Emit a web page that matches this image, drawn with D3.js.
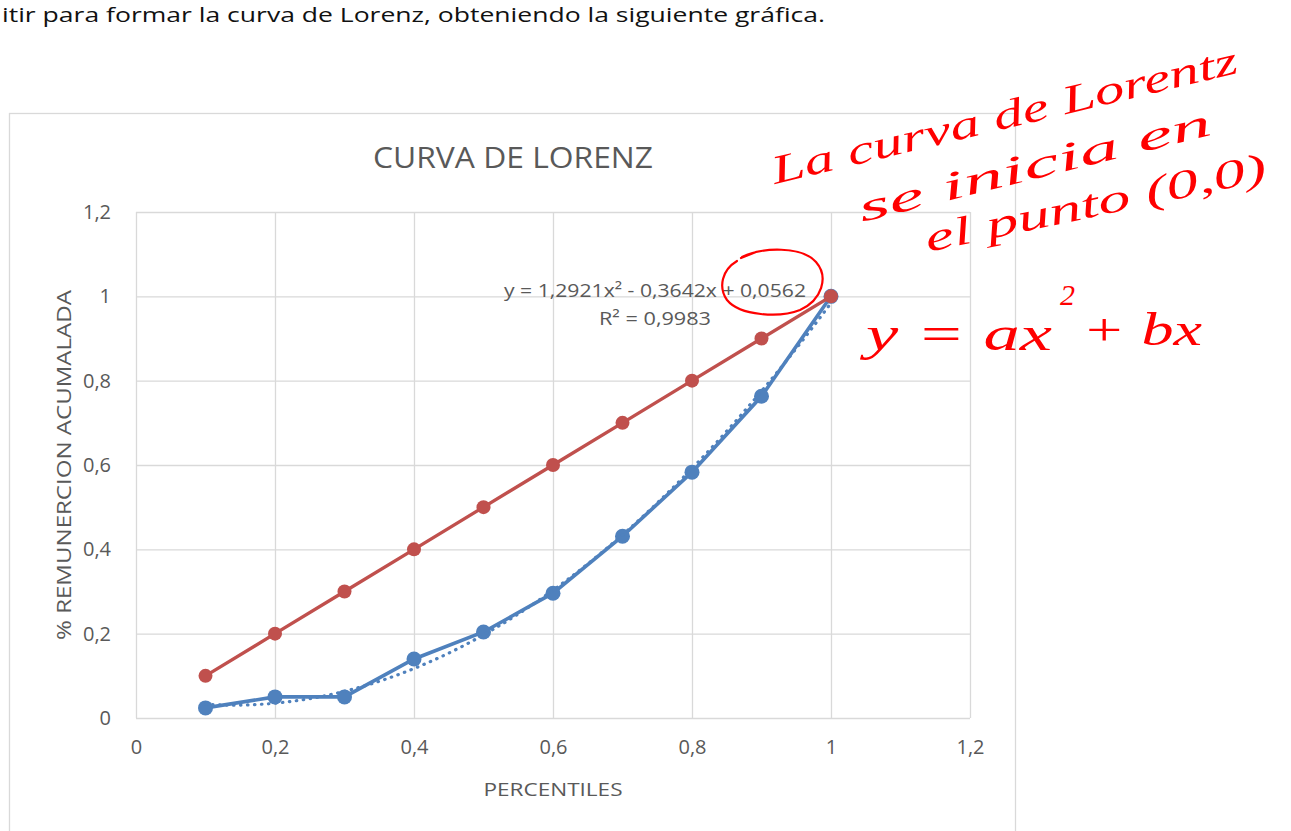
<!DOCTYPE html>
<html>
<head>
<meta charset="utf-8">
<script src="https://cdn.jsdelivr.net/npm/d3@7"></script>
<style>
  body { margin: 0; background: #fff; }
  svg { display: block; }
  .grid line { stroke: #d9d9d9; stroke-width: 1.3; }
  .grid path { display: none; }
  .tick text { fill: #595959; font-family: "Open Sans", sans-serif; font-size: 20px; }
  .hand { fill: #ff0000; font-family: "Liberation Serif", serif; font-style: italic; }
</style>
</head>
<body>
<svg id="chart" width="1291" height="831"></svg>
<script>
// data
const percentiles = [0.1, 0.2, 0.3, 0.4, 0.5, 0.6, 0.7, 0.8, 0.9, 1.0];
const igualdad = [0.1, 0.2, 0.3, 0.4, 0.5, 0.6, 0.7, 0.8, 0.9, 1.0];
const remuneracion = [0.024, 0.05, 0.05, 0.14, 0.204, 0.296, 0.431, 0.583, 0.763, 1.0];
const trendCoef = [1.2921, -0.3642, 0.0562]; // a, b, c  (y = ax^2 + bx + c)
const tickValues = [0, 0.2, 0.4, 0.6, 0.8, 1, 1.2];

const svg = d3.select("#chart");
const blue = "#4f81bd";
const red = "#c0504d";

const fmt = d3.formatLocale({decimal: ",", thousands: ".", grouping: [3], currency: ["", ""]}).format(".1~f");

const x = d3.scaleLinear().domain([0, 1.2]).range([136, 970]);
const y = d3.scaleLinear().domain([0, 1.2]).range([718, 212]);

// text above the chart
svg.append("text")
  .attr("x", 2).attr("y", 22)
  .attr("textLength", 823).attr("lengthAdjust", "spacingAndGlyphs")
  .style("font-family", "'Open Sans', sans-serif").style("font-size", "20px").style("fill", "#111")
  .text("itir para formar la curva de Lorenz, obteniendo la siguiente gráfica.");

// chart frame
svg.append("rect")
  .attr("x", 9.5).attr("y", 113.5).attr("width", 1006).attr("height", 760)
  .attr("fill", "#fff").attr("stroke", "#d9d9d9").attr("stroke-width", 1.3);

// gridlines
svg.append("g").attr("class", "grid")
  .attr("transform", `translate(0,${y(0)})`)
  .call(d3.axisBottom(x).tickValues(tickValues).tickSize(-(y(0) - y(1.2))).tickFormat(""));
svg.append("g").attr("class", "grid")
  .attr("transform", `translate(${x(0)},0)`)
  .call(d3.axisLeft(y).tickValues(tickValues).tickSize(-(x(1.2) - x(0))).tickFormat(""));

// tick labels
const xAxis = svg.append("g")
  .attr("transform", `translate(0,${y(0) + 19})`)
  .call(d3.axisBottom(x).tickValues(tickValues).tickSize(0).tickFormat(fmt));
xAxis.select(".domain").remove();

const yAxis = svg.append("g")
  .attr("transform", `translate(${x(0) - 22},0)`)
  .call(d3.axisLeft(y).tickValues(tickValues).tickSize(0).tickFormat(fmt));
yAxis.select(".domain").remove();

// titles
svg.append("text")
  .attr("x", 513).attr("y", 168).attr("text-anchor", "middle")
  .attr("textLength", 280).attr("lengthAdjust", "spacingAndGlyphs")
  .style("font-family", "'Open Sans', sans-serif").style("font-size", "29px").style("fill", "#595959")
  .text("CURVA DE LORENZ");

svg.append("text")
  .attr("x", 553).attr("y", 796).attr("text-anchor", "middle")
  .attr("textLength", 139).attr("lengthAdjust", "spacingAndGlyphs")
  .style("font-family", "'Open Sans', sans-serif").style("font-size", "19px").style("fill", "#595959")
  .text("PERCENTILES");

svg.append("text")
  .attr("transform", "translate(71,465) rotate(-90)")
  .attr("text-anchor", "middle")
  .attr("textLength", 350).attr("lengthAdjust", "spacingAndGlyphs")
  .style("font-family", "'Open Sans', sans-serif").style("font-size", "20px").style("fill", "#595959")
  .text("% REMUNERCION ACUMALADA");

// series
const line = d3.line().x(d => x(d[0])).y(d => y(d[1]));
const bluePts = percentiles.map((p, i) => [p, remuneracion[i]]);
const redPts = percentiles.map((p, i) => [p, igualdad[i]]);

svg.append("path").datum(bluePts)
  .attr("d", line).attr("fill", "none").attr("stroke", blue).attr("stroke-width", 3.6);
svg.append("g").selectAll("circle").data(bluePts).join("circle")
  .attr("cx", d => x(d[0])).attr("cy", d => y(d[1])).attr("r", 7.5).attr("fill", blue);

// polynomial trendline (dotted)
const trend = d3.range(0, 91).map(i => {
  const px = d3.min(percentiles) + i * (d3.max(percentiles) - d3.min(percentiles)) / 90;
  return [px, trendCoef[0] * px * px + trendCoef[1] * px + trendCoef[2]];
});
svg.append("path").datum(trend)
  .attr("d", line).attr("fill", "none").attr("stroke", blue).attr("stroke-width", 3.2)
  .attr("stroke-linecap", "round").attr("stroke-dasharray", "0.5,6.5");

svg.append("path").datum(redPts)
  .attr("d", line).attr("fill", "none").attr("stroke", red).attr("stroke-width", 3.4);
svg.append("g").selectAll("circle").data(redPts).join("circle")
  .attr("cx", d => x(d[0])).attr("cy", d => y(d[1])).attr("r", 7).attr("fill", red);

// trendline label
function fmt4(v) { return v.toFixed(4).replace(".", ","); }

svg.append("text")
  .attr("x", 655).attr("y", 297).attr("text-anchor", "middle")
  .attr("textLength", 302).attr("lengthAdjust", "spacingAndGlyphs")
  .style("font-family", "'Open Sans', sans-serif").style("font-size", "19px").style("fill", "#595959")
  .text(`y = ${fmt4(trendCoef[0])}x² - ${fmt4(-trendCoef[1])}x + ${fmt4(trendCoef[2])}`);
svg.append("text")
  .attr("x", 655).attr("y", 325).attr("text-anchor", "middle")
  .attr("textLength", 112).attr("lengthAdjust", "spacingAndGlyphs")
  .style("font-family", "'Open Sans', sans-serif").style("font-size", "19px").style("fill", "#595959")
  .text("R² = 0,9983");

// handwritten annotations
const hand = svg.append("g");
hand.append("path")
  .attr("d", "M742,257 C762,247 802,246 816,262 C829,277 822,300 800,310 C780,318 740,316 727,300 C718,287 722,270 737,261 M741,258 L756,252")
  .attr("fill", "none").attr("stroke", "#ff0000").attr("stroke-width", 2.2).attr("stroke-linecap", "round");

hand.append("text").attr("class", "hand")
  .attr("transform", "translate(775,184) rotate(-13.5)")
  .attr("textLength", 478).attr("lengthAdjust", "spacingAndGlyphs")
  .style("font-size", "40px").text("La curva de Lorentz");
hand.append("text").attr("class", "hand")
  .attr("transform", "translate(862,222) rotate(-14)")
  .attr("textLength", 362).attr("lengthAdjust", "spacingAndGlyphs")
  .style("font-size", "40px").text("se inicia en");
hand.append("text").attr("class", "hand")
  .attr("transform", "translate(928,252) rotate(-12)")
  .attr("textLength", 348).attr("lengthAdjust", "spacingAndGlyphs")
  .style("font-size", "40px").text("el punto (0,0)");
hand.append("text").attr("class", "hand")
  .attr("x", 866).attr("y", 350)
  .attr("textLength", 186).attr("lengthAdjust", "spacingAndGlyphs")
  .style("font-size", "48px").text("y = ax");
hand.append("text").attr("class", "hand")
  .attr("x", 1060).attr("y", 305)
  .style("font-size", "30px").text("2");
hand.append("text").attr("class", "hand")
  .attr("x", 1082).attr("y", 345)
  .attr("textLength", 120).attr("lengthAdjust", "spacingAndGlyphs")
  .style("font-size", "46px").text("+ bx");
</script>
</body>
</html>
